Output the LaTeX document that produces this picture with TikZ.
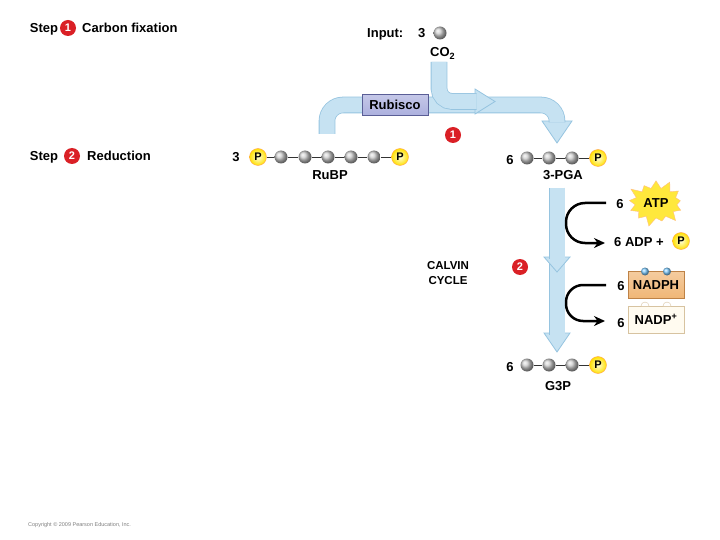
\documentclass[tikz,border=0pt]{standalone}
\usepackage{fontspec}
\setmainfont{Liberation Sans}
\usetikzlibrary{arrows.meta,positioning,shapes.symbols}

\definecolor{bandfill}{RGB}{198,226,242}
\definecolor{bandedge}{RGB}{150,196,224}
\definecolor{stepred}{RGB}{218,32,38}
\definecolor{atpyellow}{RGB}{255,232,60}
\definecolor{nadphfill}{RGB}{240,182,118}
\definecolor{nadphedge}{RGB}{190,130,70}
\definecolor{nadpfill}{RGB}{255,251,240}
\definecolor{nadpedge}{RGB}{215,195,160}
\definecolor{rubfill}{RGB}{172,176,222}
\definecolor{rubedge}{RGB}{90,94,150}

\tikzset{
  band/.style={draw=bandedge, line width=0.8pt, double=bandfill, double distance=15pt},
  bandhead/.style={fill=bandfill, draw=bandedge, line width=0.8pt},
  carbon/.style={circle, ball color=gray!40, minimum size=13pt, inner sep=0pt},
  phos/.style={circle, draw=orange!70, inner color=yellow!15, outer color=yellow!75!orange, minimum size=17pt, inner sep=0pt, font=\fontsize{11}{12}\selectfont\bfseries},
  electron/.style={circle, ball color=cyan!60!blue!50, minimum size=8pt, inner sep=0pt},
  stepnum/.style={circle, fill=stepred, text=white, minimum size=16pt, inner sep=0pt, font=\fontsize{11}{12}\selectfont\bfseries},
  bond/.style={line width=0.8pt, black!80},
  lab/.style={inner sep=0pt, anchor=base},
  cyclearrow/.style={line width=2.5pt, -{Stealth[length=11pt,width=10pt]}, rounded corners=19pt},
}

\begin{document}
\begin{tikzpicture}[x=1pt,y=-1pt,font=\fontsize{13}{15}\selectfont\bfseries]
\path[use as bounding box, fill=white] (0,0) rectangle (720,540);

% step headings
\node[lab] (step1) at (44,33) {Step};
\node[stepnum] (num1) at (68,28) {1};
\node[lab, anchor=base west] (fixation) at (82,33) {Carbon fixation};
\node[lab] (step2) at (44,161) {Step};
\node[stepnum] (num2) at (72,156) {2};
\node[lab, anchor=base west] (reduction) at (87,161) {Reduction};

% input
\node[lab, anchor=base west] (input) at (367,38) {Input:};
\node[lab, anchor=base west] (nco2) at (418,38) {3};
\node[carbon] (co2ball) at (440,33) {};
\node[lab, anchor=base west] (co2) at (430,57) {CO\textsubscript{2}};

% blue arrows at the top
\filldraw[bandhead] (542,121) -- (557,143) -- (572,121) -- cycle;
\draw[band, rounded corners=16pt] (327,134) -- (327,105) -- (557,105) -- (557,122.5);
\filldraw[bandhead] (475,89) -- (495,101.5) -- (475,114) -- cycle;
\draw[band, rounded corners=13pt] (439,62) -- (439,101.5) -- (476.5,101.5);
\node[draw=rubedge, top color=rubfill!70, bottom color=rubfill, minimum width=66pt, minimum height=21pt, inner sep=0pt] (rubisco) at (395,105) {Rubisco};
\node[stepnum] (num1b) at (453,135) {1};

% RuBP
\node[lab] (nrubp) at (236,162) {3};
\node[phos] (rubp0) at (258,157) {P};
\foreach \i/\x in {1/281,2/305,3/328,4/351,5/374} \node[carbon] (rubp\i) at (\x,157) {};
\node[phos] (rubp6) at (400,157) {P};
\foreach \i [count=\j from 1] in {0,...,5} \draw[bond] (rubp\i) -- (rubp\j);
\node[lab] (rubplab) at (330,180) {RuBP};

% 3-PGA
\node[lab] (npga) at (510,165) {6};
\foreach \i/\x in {1/527,2/549,3/572} \node[carbon] (pga\i) at (\x,158) {};
\node[phos] (pga4) at (598,158) {P};
\foreach \i [count=\j from 2] in {1,2,3} \draw[bond] (pga\i) -- (pga\j);
\node[lab] (pgalab) at (563,180) {3-PGA};

% arrow down to G3P
\filldraw[bandhead] (544,333) -- (557,352) -- (570,333) -- cycle;
\draw[band] (557,262) -- (557,334.5);
\filldraw[bandhead] (544,257) -- (557,272) -- (570,257) -- cycle;
\draw[band] (557,188) -- (557,258.5);

% ATP
\node[lab] (natp) at (620,208) {6};
\node[starburst, starburst points=13, starburst point height=10pt, fill=atpyellow, draw=orange!50, minimum width=62pt, minimum height=50pt, inner sep=0pt] (atp) at (656,203) {ATP};
\node[lab, anchor=base west] (adp) at (614,246) {6 ADP +};
\node[phos] (adpp) at (681,241) {P};
\coordinate (atpfrom) at (606,203);
\coordinate (adpto) at (605,243);
\draw[cyclearrow] (atpfrom) -- (566,203) -- (566,243) -- (adpto);

% NADPH
\node[lab] (nnadph) at (621,290) {6};
\node[draw=nadphedge, top color=nadphfill!70, bottom color=nadphfill, minimum width=56pt, minimum height=27pt, inner sep=0pt] (nadph) at (656,285) {NADPH};
\foreach \i/\x in {1/645,2/667} \node[electron] (el\i) at (\x,271.5) {};
\node[lab] (nnadp) at (621,327) {6};
\node[draw=nadpedge, fill=nadpfill, minimum width=56pt, minimum height=27pt, inner sep=0pt] (nadp) at (656,319.5) {NADP\textsuperscript{+}};
\foreach \x in {645,667} {
  \fill[white] ({\x-4},306) arc[start angle=180, end angle=0, radius=4pt] -- cycle;
  \draw[nadpedge] ({\x-4},306) arc[start angle=180, end angle=0, radius=4pt];
}
\coordinate (nadphfrom) at (606,285);
\coordinate (nadpto) at (605,321);
\draw[cyclearrow, rounded corners=17pt] (nadphfrom) -- (566,285) -- (566,321) -- (nadpto);

% calvin cycle
\node[lab, font=\fontsize{11.5}{13}\selectfont\bfseries] (calvin) at (448,269) {CALVIN};
\node[lab, font=\fontsize{11.5}{13}\selectfont\bfseries] (cycle) at (448,284) {CYCLE};
\node[stepnum] (num2b) at (520,267) {2};

% G3P
\node[lab] (ng3p) at (510,371) {6};
\foreach \i/\x in {1/527,2/549,3/572} \node[carbon] (g3p\i) at (\x,365) {};
\node[phos] (g3p4) at (598,365) {P};
\foreach \i [count=\j from 2] in {1,2,3} \draw[bond] (g3p\i) -- (g3p\j);
\node[lab] (g3plab) at (558,390) {G3P};

\node[lab, anchor=base west, font=\fontsize{5.5}{6}\selectfont, text=gray] (copyr) at (28,526) {Copyright \textcopyright{} 2009 Pearson Education, Inc.};
\end{tikzpicture}
\end{document}
